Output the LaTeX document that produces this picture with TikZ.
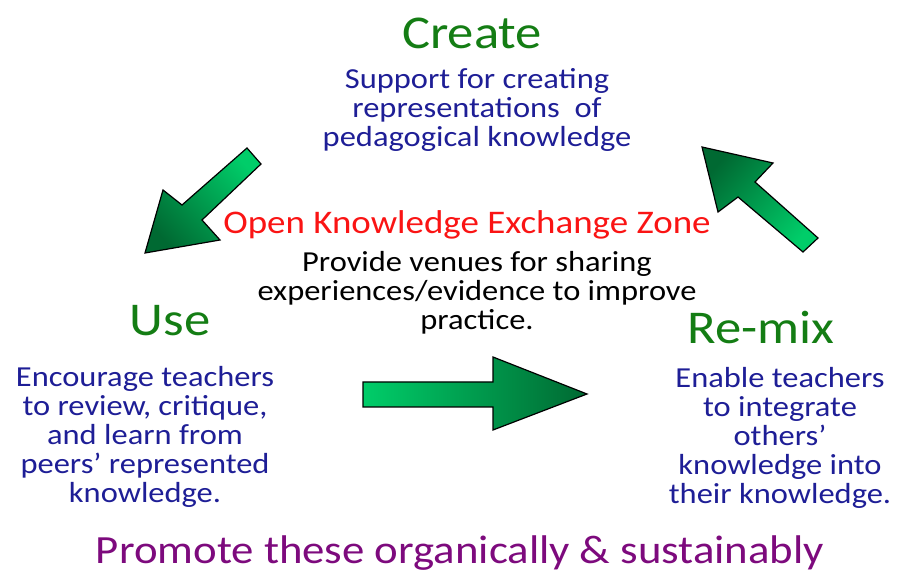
\documentclass[tikz,border=0pt]{standalone}
\usepackage{fontspec}
\setmainfont{Carlito}[FakeStretch=1.12]
\usepackage{xcolor}
\definecolor{headgreen}{RGB}{20,125,20}
\definecolor{bodyblue}{RGB}{30,30,150}
\definecolor{zonered}{RGB}{250,20,20}
\definecolor{promoteviolet}{RGB}{125,10,125}
\definecolor{arrowlight}{RGB}{0,205,105}
\definecolor{arrowdark}{RGB}{0,105,50}

\begin{document}
\begin{tikzpicture}[x=1pt,y=1pt,yscale=-1,xscale=1,
    head/.style={text=headgreen,font=\fontsize{47}{50}\selectfont,inner sep=0pt},
    body/.style={text=bodyblue,font=\fontsize{29}{29}\selectfont,align=center,inner sep=0pt},
    blockarrow/.style={draw=black,line width=1.2pt,line join=miter,top color=arrowdark,bottom color=arrowlight}]
        \useasboundingbox (0,0) rectangle (898,580);

        %Shape: Arrow create -> use
        \shade [blockarrow,shading angle=132] (145,253) -- (163,190) -- (182,205) -- (247,148) -- (261,164) -- (202,220) -- (220,240) -- cycle;
        %Shape: Arrow use -> remix
        \shade [blockarrow,shading angle=-90] (363,382) -- (493,382) -- (493,357) -- (587,394) -- (493,430) -- (493,407) -- (363,407) -- cycle;
        %Shape: Arrow remix -> create
        \shade [blockarrow,shading angle=48] (702,147) -- (773,163) -- (755,182) -- (818,238) -- (803,252) -- (738,197) -- (718,212) -- cycle;

        % Text Node
        \node [head] (create) at (472,33) {Create};
        % Text Node
        \node [body] (createtxt) at (477,110) {Support for creating\\representations\ \ of\\pedagogical knowledge};
        % Text Node
        \node [body,text=zonered,font=\fontsize{33}{33}\selectfont] (zone) at (467,225) {Open Knowledge Exchange Zone};
        % Text Node
        \node [body,text=black] (zonetxt) at (477,293) {Provide venues for sharing\\experiences/evidence to improve\\practice.};
        % Text Node
        \node [head] (use) at (170,321) {Use};
        % Text Node
        \node [body] (usetxt) at (145,437) {Encourage teachers\\to review, critique,\\and learn from\\peers' represented\\knowledge.};
        % Text Node
        \node [head] (remix) at (761,327) {Re-mix};
        % Text Node
        \node [body] (remixtxt) at (780,438) {Enable teachers\\to integrate\\others'\\knowledge into\\their knowledge.};
        % Text Node
        \node [text=promoteviolet,font=\fontsize{40}{44}\selectfont,inner sep=0pt] (promote) at (460,553) {Promote these organically \& sustainably};

\end{tikzpicture}
\end{document}
